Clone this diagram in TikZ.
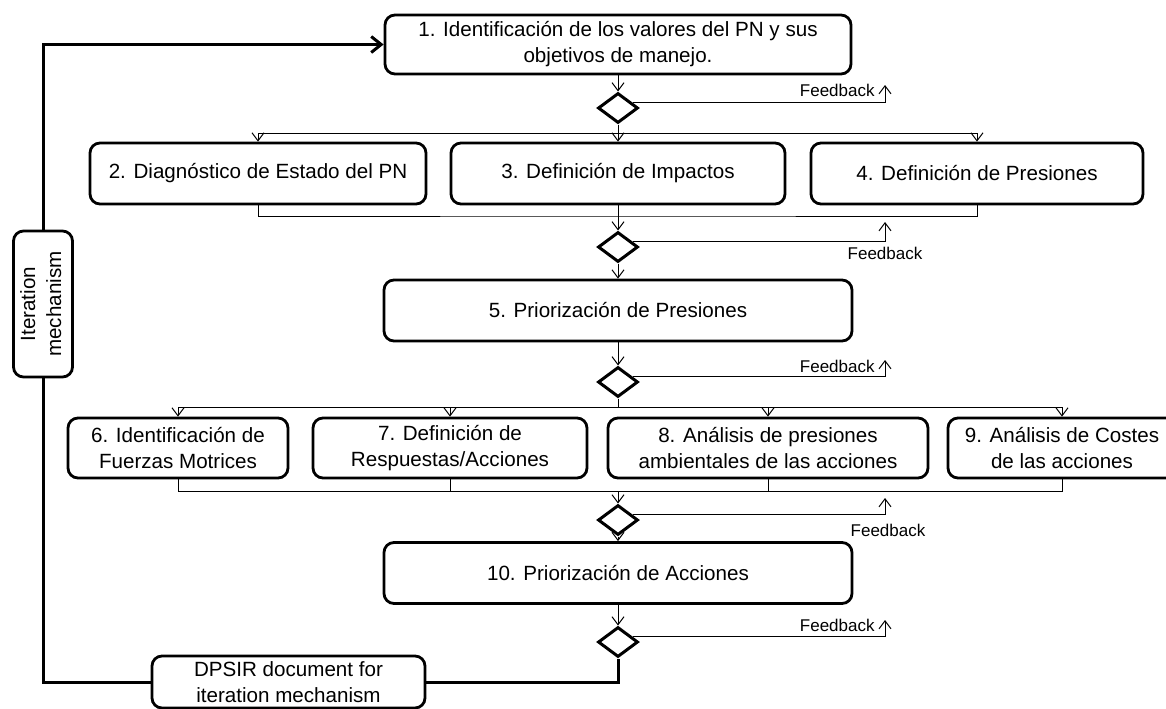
\documentclass[tikz,border=0pt]{standalone}
\usepackage{fontspec}
\setmainfont{Liberation Sans}
\usetikzlibrary{shapes.geometric,arrows.meta}

\begin{document}
\begin{tikzpicture}[x=0.5pt, y=-0.5pt,
    box/.style={draw, line width=1.4pt, rounded corners=5pt, align=center, inner sep=0pt,
        minimum height=30.5pt, font=\fontsize{10.3}{13}\selectfont},
    dec/.style={draw, diamond, line width=1.5pt, minimum width=20pt, minimum height=15pt, inner sep=0pt},
    arr/.style={-{Straight Barb[length=4pt,width=6pt]}, line width=0.5pt},
    con/.style={line width=0.5pt},
    iterline/.style={line width=1.5pt},
    fb/.style={font=\fontsize{8.5}{10}\selectfont, inner sep=0pt}]
    \useasboundingbox (0,0) rectangle (1166,708);

    % Steps of the method
    \node[box, minimum width=233pt, minimum height=29.5pt] (b1) at (618,44.5) {1. Identificación de los valores del PN y sus\\objetivos de manejo.};
    \node[dec] (d1) at (618,108) {};
    \node[box, minimum width=168pt] (b2) at (258,173.5) {2. Diagnóstico de Estado del PN};
    \node[box, minimum width=167pt] (b3) at (618,173.5) {3. Definición de Impactos};
    \node[box, minimum width=166pt] (b4) at (977,173.5) {4. Definición de Presiones};
    \node[dec] (d2) at (618,247) {};
    \node[box, minimum width=234pt] (b5) at (618,310.5) {5. Priorización de Presiones};
    \node[dec] (d3) at (618,382) {};
    \node[box, minimum width=110pt, minimum height=30pt] (b6) at (178,448) {6. Identificación de\\Fuerzas Motrices};
    \node[box, minimum width=137pt, minimum height=30pt] (b7) at (450,448) {7. Definición de\\Respuestas/Acciones};
    \node[box, minimum width=160pt, minimum height=30pt] (b8) at (768,448) {8. Análisis de presiones\\ambientales de las acciones};
    \node[box, minimum width=114pt, minimum height=30pt] (b9) at (1062,448) {9. Análisis de Costes\\de las acciones};
    \node[dec] (d4) at (618,520) {};
    \node[box, minimum width=234pt] (b10) at (618,573) {10. Priorización de Acciones};
    \node[dec] (d5) at (618,642) {};
    \node[box, minimum width=136.5pt, minimum height=26pt] (dps) at (288.5,682) {DPSIR document for\\iteration mechanism};
    \node[box, minimum width=29.5pt, minimum height=73pt] (itm) at (43,304)
        {\rotatebox{90}{\begin{tabular}{@{}c@{}}Iteration\\mechanism\end{tabular}}};

    % Flow between the steps
    \draw[arr] (b1.south) -- (d1.north);
    \coordinate (s1) at (618,133);
    \draw[con] (s1 -| b2) -- (s1 -| b4);
    \draw[arr] (d1.south) -- (b3.north);
    \draw[arr] (s1 -| b2) -- (b2.north);
    \draw[arr] (s1 -| b4) -- (b4.north);
    \coordinate (m1) at (618,216);
    \draw[con] (b2.south) |- (m1) -| (b4.south);
    \draw[arr] (b3.south) -- (d2.north);
    \draw[arr] (d2.south) -- (b5.north);
    \draw[arr] (b5.south) -- (d3.north);
    \coordinate (s2) at (618,407);
    \draw[con] (d3.south) -- (s2);
    \draw[con] (s2 -| b6) -- (s2 -| b9);
    \foreach \b in {b6,b7,b8,b9} {
        \draw[arr] (s2 -| \b) -- (\b.north);
    }
    \coordinate (m2) at (618,491);
    \draw[con] (b6.south) |- (m2) -| (b9.south);
    \draw[con] (b7.south) -- (b7.south |- m2);
    \draw[con] (b8.south) -- (b8.south |- m2);
    \draw[arr] (m2) -- (d4.north);
    \draw[arr] (d4.south) -- (b10.north);
    \draw[arr] (b10.south) -- (d5.north);

    % Feedback
    \coordinate (f1) at (885,85);
    \coordinate (f2) at (885,222);
    \coordinate (f3) at (885,360);
    \coordinate (f4) at (885,498);
    \coordinate (f5) at (885,620);
    \draw[arr] (d1.20) -| (f1);
    \draw[arr] (d2.20) -| (f2);
    \draw[arr] (d3.20) -| (f3);
    \draw[arr] (d4.20) -| (f4);
    \draw[arr] (d5.20) -| (f5);
    \node[fb, anchor=east] (t1) at (875,90) {Feedback};
    \node[fb] (t2) at (885,253) {Feedback};
    \node[fb, anchor=east] (t3) at (875,366) {Feedback};
    \node[fb] (t4) at (888,530) {Feedback};
    \node[fb, anchor=east] (t5) at (875,625) {Feedback};

    % Iteration loop
    \draw[iterline] (d5.south) |- (dps.east);
    \draw[iterline] (dps.west) -| (itm.south);
    \draw[iterline, -{Straight Barb[length=5pt,width=8pt]}] (itm.north) |- (b1.west);
\end{tikzpicture}
\end{document}
